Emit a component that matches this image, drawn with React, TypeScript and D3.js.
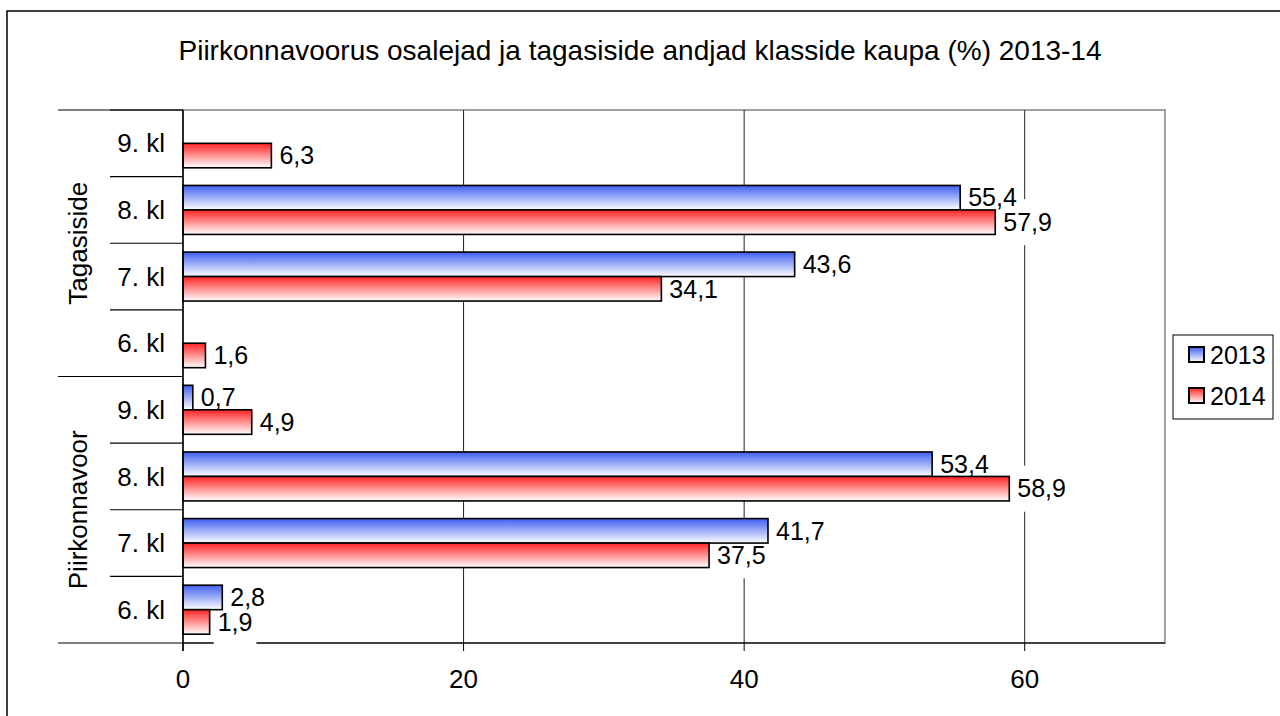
import React from "react";
import * as d3 from "d3";

const groups = ["Tagasiside", "Piirkonnavoor"];
const classes = ["9. kl", "8. kl", "7. kl", "6. kl"];
const seriesNames = ["2013", "2014"];
// values listed per group, classes top to bottom (9., 8., 7., 6. kl)
const tagasiside2013: (number | null)[] = [null, 55.4, 43.6, null];
const tagasiside2014: (number | null)[] = [6.3, 57.9, 34.1, 1.6];
const piirkonnavoor2013: (number | null)[] = [0.7, 53.4, 41.7, 2.8];
const piirkonnavoor2014: (number | null)[] = [4.9, 58.9, 37.5, 1.9];
const xTicks = [0, 20, 40, 60];
const title = "Piirkonnavoorus osalejad ja tagasiside andjad klasside kaupa (%) 2013-14";

const FONT = "'Liberation Sans', Arial, sans-serif";

type Row = { key: string; group: string; cls: string; values: (number | null)[] };
const rows: Row[] = [];
groups.forEach((g, gi) => {
  const a = gi === 0 ? tagasiside2013 : piirkonnavoor2013;
  const b = gi === 0 ? tagasiside2014 : piirkonnavoor2014;
  classes.forEach((c, ci) => {
    rows.push({ key: g + "|" + c, group: g, cls: c, values: [a[ci], b[ci]] });
  });
});

const fmt = (v: number) => v.toFixed(1).replace(".", ",");

function textWidth(s: string, size: number) {
  const w: Record<string, number> = { ",": 0.278, ".": 0.278, " ": 0.278 };
  let t = 0;
  for (const ch of s) t += w[ch] ?? 0.556;
  return t * size;
}

export default function App() {
  const W = 1280, H = 716;
  const left = 183, right = 1165, top = 110, bottom = 643;
  const x = d3.scaleLinear().domain([0, 70]).range([left, right]);
  const y = d3.scaleBand<string>().domain(rows.map((r) => r.key)).range([top, bottom]).padding(0);
  const ys = d3.scaleBand<string>().domain(seriesNames).range([0, y.bandwidth()]).paddingInner(0).paddingOuter(0.36);
  const fills = ["url(#gBlue)", "url(#gRed)"];
  const labelSize = 25;

  const labels: { x: number; y: number; text: string }[] = [];
  rows.forEach((r) => {
    r.values.forEach((v, si) => {
      if (v == null) return;
      labels.push({
        x: x(v),
        y: (y(r.key) as number) + (ys(seriesNames[si]) as number) + ys.bandwidth() / 2,
        text: fmt(v),
      });
    });
  });

  const groupBounds = groups.map((g) => {
    const keys = rows.filter((r) => r.group === g).map((r) => r.key);
    const y0 = y(keys[0]) as number;
    const y1 = (y(keys[keys.length - 1]) as number) + y.bandwidth();
    return { g, y0, y1 };
  });

  return (
    <div style={{ position: "fixed", left: 0, top: 0 }}>
      <svg width={W} height={H} style={{ display: "block", fontFamily: FONT }}>
        <defs>
          <linearGradient id="gBlue" x1="0" y1="0" x2="0" y2="1">
            <stop offset="0" stopColor="#3f5ff0" />
            <stop offset="1" stopColor="#ffffff" />
          </linearGradient>
          <linearGradient id="gRed" x1="0" y1="0" x2="0" y2="1">
            <stop offset="0" stopColor="#ff2424" />
            <stop offset="1" stopColor="#ffffff" />
          </linearGradient>
        </defs>
        <rect x={0} y={0} width={W} height={H} fill="#fff" />
        <rect x={7} y={11} width={1400} height={900} fill="none" stroke="#000" strokeWidth={1.5} />
        <text x={640} y={60} textAnchor="middle" fontSize={28} fill="#000">{title}</text>

        {/* plot frame */}
        <rect x={left} y={top} width={right - left} height={bottom - top} fill="none" stroke="#a0a0a0" strokeWidth={2} />
        {/* gridlines */}
        {xTicks.filter((t) => t > 0).map((t) => (
          <line key={"g" + t} x1={x(t)} x2={x(t)} y1={top} y2={bottom} stroke="#222" strokeWidth={1} />
        ))}
        {/* x axis */}
        <line x1={left} x2={right} y1={bottom} y2={bottom} stroke="#222" strokeWidth={1.5} />

        {/* value label boxes (cover grid and axis lines) */}
        {labels.map((l, i) => (
          <rect key={"lb" + i} x={l.x + 4} y={l.y - 23} width={textWidth(l.text, labelSize) + 8} height={46} fill="#fff" />
        ))}

        {/* bars */}
        {rows.map((r) =>
          r.values.map((v, si) =>
            v == null ? null : (
              <rect
                key={r.key + si}
                x={x(0)}
                y={(y(r.key) as number) + (ys(seriesNames[si]) as number)}
                width={x(v) - x(0)}
                height={ys.bandwidth()}
                fill={fills[si]}
                stroke="#000"
                strokeWidth={1.6}
              />
            )
          )
        )}

        {xTicks.map((t) => (
          <g key={"t" + t}>
            <line x1={x(t)} x2={x(t)} y1={bottom} y2={bottom + 8} stroke="#000" strokeWidth={1} />
            <text x={x(t)} y={688} textAnchor="middle" fontSize={26} fill="#000">{t}</text>
          </g>
        ))}
        {/* y axis */}
        <line x1={left} x2={left} y1={top} y2={bottom + 8} stroke="#000" strokeWidth={1.5} />
        {rows.map((r, i) => (
          <line key={"s" + i} x1={110} x2={left} y1={y(r.key) as number} y2={y(r.key) as number} stroke="#000" strokeWidth={1.2} />
        ))}
        {groupBounds.map((b) => (
          <g key={"gb" + b.g}>
            <line x1={58} x2={left} y1={b.y0} y2={b.y0} stroke="#000" strokeWidth={1.2} />
            <line x1={58} x2={left} y1={b.y1} y2={b.y1} stroke="#000" strokeWidth={1.2} />
            <text transform={`translate(87,${(b.y0 + b.y1) / 2}) rotate(-90)`} textAnchor="middle" fontSize={26} fill="#000">{b.g}</text>
          </g>
        ))}
        {rows.map((r) => (
          <text key={"c" + r.key} x={165} y={(y(r.key) as number) + y.bandwidth() / 2} dy="0.35em" textAnchor="end" fontSize={26} fill="#000">{r.cls}</text>
        ))}

        {/* value label texts */}
        {labels.map((l, i) => (
          <text key={"lt" + i} x={l.x + 8} y={l.y} dy="0.35em" fontSize={labelSize} fill="#000">{l.text}</text>
        ))}

        {/* legend */}
        <rect x={1173} y={335} width={100} height={84} fill="#fff" stroke="#000" strokeWidth={1} />
        {seriesNames.map((s, i) => (
          <g key={"lg" + s}>
            <rect x={1189} y={347 + i * 41} width={15} height={15} fill={fills[i]} stroke="#000" strokeWidth={2} />
            <text x={1210} y={355 + i * 41} dy="0.35em" fontSize={25} fill="#000">{s}</text>
          </g>
        ))}
      </svg>
    </div>
  );
}
